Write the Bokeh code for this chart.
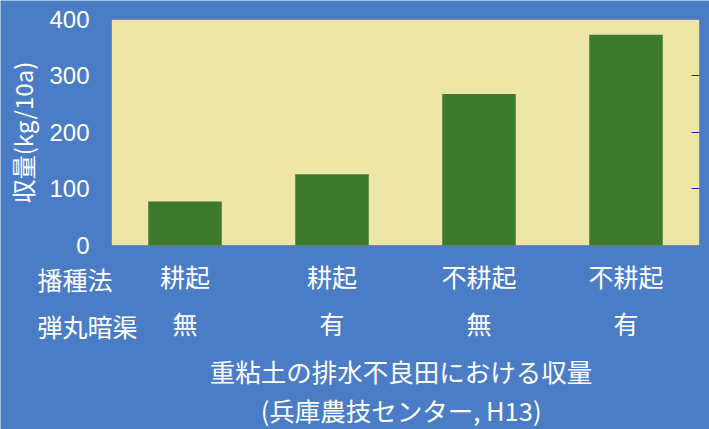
from bokeh.plotting import figure
from bokeh.models import (Range1d, LinearAxis, FixedTicker, Label, BoxAnnotation,
                          ColumnDataSource, CustomJSTickFormatter)
from bokeh.embed import file_html
from bokeh.resources import INLINE

# ---- data ----
method = ["耕起", "耕起", "不耕起", "不耕起"]
drain = ["無", "有", "無", "有"]
yields = [78, 126, 268, 373]
y_ticks = [0, 100, 200, 300, 400]
row_headers = ["播種法", "弾丸暗渠"]
y_label = "収量(kg/10a)"
title_main = "重粘土の排水不良田における収量"
title_sub = "(兵庫農技センター, H13)"

# ---- style ----
BLUE = "#4a7dc6"
BEIGE = "#eee6a6"
GREEN = "#3e7a2c"
EDGE = "#2b2f9e"
JP = "Noto Sans CJK JP"

n = len(yields)
centers = [i + 0.5 for i in range(n)]
y_lo, y_hi = y_ticks[0], y_ticks[-1]
src = ColumnDataSource(dict(x=centers, top=yields))

# whole canvas is the frame; the ranges are chosen so that the plotting box
# (0..n, 0..400) lands where the reference draws it
p = figure(width=709, height=429,
           x_range=Range1d(-0.7551, n + 0.068),
           y_range=Range1d(-325.7, 433.6),
           output_backend="svg", toolbar_location=None,
           x_axis_location=None, y_axis_location=None, min_border=0,
           background_fill_color=BLUE, border_fill_color=BLUE,
           outline_line_color=None)
p.xgrid.visible = False
p.ygrid.visible = False

p.add_layout(BoxAnnotation(left=0, right=n, bottom=y_lo, top=y_hi,
                           fill_color=BEIGE, fill_alpha=1,
                           line_color=EDGE, line_width=1, level="underlay"))

p.vbar(x="x", top="top", width=0.5, source=src, fill_color=GREEN, line_color=None)

yaxis = LinearAxis(fixed_location=0, bounds=(y_lo, y_hi),
                   ticker=FixedTicker(ticks=y_ticks), axis_label=y_label,
                   major_tick_in=0, major_tick_out=0, minor_tick_in=0, minor_tick_out=0,
                   axis_line_color=None, major_label_standoff=22,
                   major_label_text_font="Liberation Sans", major_label_text_font_size="24px",
                   major_label_text_color="white",
                   axis_label_text_font=JP, axis_label_text_font_size="24px",
                   axis_label_text_font_style="normal", axis_label_text_color="white",
                   axis_label_standoff=6)
p.add_layout(yaxis, "left")

raxis = LinearAxis(fixed_location=n, bounds=(y_lo, y_hi),
                   ticker=FixedTicker(ticks=y_ticks[1:-1]),
                   major_tick_in=8, major_tick_out=0, minor_tick_in=0, minor_tick_out=0,
                   major_tick_line_color=EDGE, axis_line_color=None,
                   major_label_text_font_size="1px", major_label_text_color=None,
                   major_label_standoff=0)
p.add_layout(raxis, "right")

def cat_axis(labels, standoff):
    fmt = CustomJSTickFormatter(args=dict(labels=labels),
                                code="return labels[Math.round(tick - 0.5)] || '';")
    return LinearAxis(fixed_location=y_lo, ticker=FixedTicker(ticks=centers), formatter=fmt,
                      major_tick_in=0, major_tick_out=0, minor_tick_in=0, minor_tick_out=0,
                      axis_line_color=None, major_label_standoff=standoff,
                      major_label_text_font=JP, major_label_text_font_size="25px",
                      major_label_text_color="white")

p.add_layout(cat_axis(method, 13), "below")
p.add_layout(cat_axis(drain, 60), "below")

for txt, yv in zip(row_headers, [-60, -143]):
    p.add_layout(Label(x=-0.503, y=yv, text=txt, text_align="left", text_baseline="middle",
                       text_font=JP, text_font_size="25px", text_color="white"))

for txt, yv in zip([title_main, title_sub], [-222, -290]):
    p.add_layout(Label(x=n / 2 - 0.03, y=yv, text=txt, text_align="center",
                       text_baseline="middle",
                       text_font=JP, text_font_size="25.5px", text_color="white"))

open("out.html", "w").write(file_html(p, INLINE, title="chart"))
